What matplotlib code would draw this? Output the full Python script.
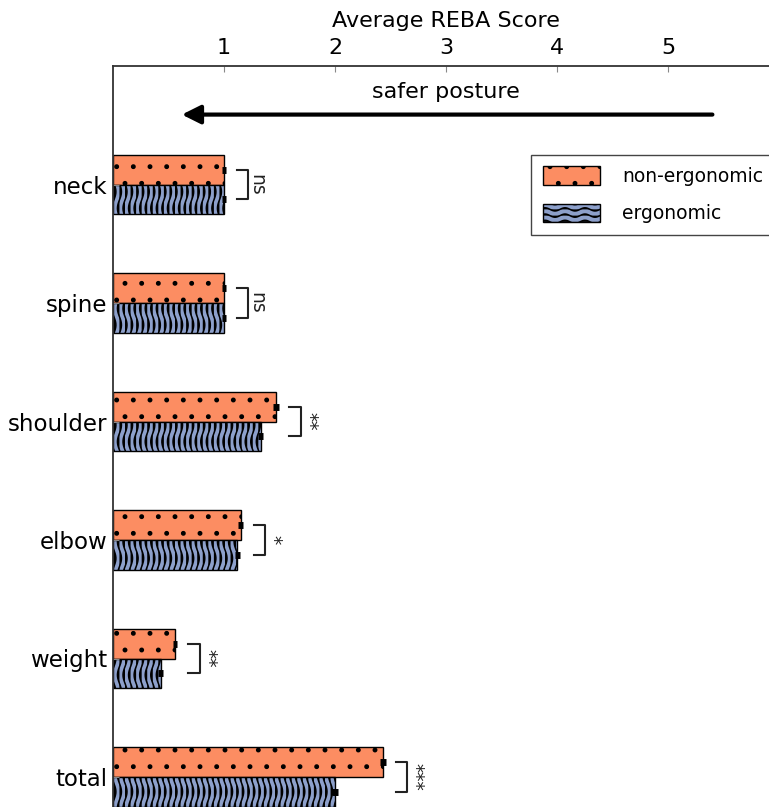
import warnings
import numpy as np
import matplotlib
matplotlib.use("Agg")
import matplotlib.pyplot as plt
from matplotlib import hatch as mhatch
from matplotlib.path import Path
from matplotlib.patches import Patch

warnings.filterwarnings("ignore")

# ── Data ───────────────────────────────────────────────────────────────────────
CATEGORIES = ["neck", "spine", "shoulder", "elbow", "weight", "total"]
NON_ERGO = [1.0, 1.0, 1.47, 1.15, 0.56, 2.43]
ERGO = [1.0, 1.0, 1.33, 1.12, 0.43, 2.0]
NON_ERGO_ERR = [0.02, 0.02, 0.025, 0.02, 0.02, 0.025]
ERGO_ERR = [0.02, 0.02, 0.025, 0.02, 0.022, 0.03]
SIGNIF = ["ns", "ns", "**", "*", "**", "***"]
XTICKS = [1, 2, 3, 4, 5]

ORANGE = "#fc8d62"
BLUE = "#8da0cb"


# ── Custom wavy hatches ────────────────────────────────────────────────────────
class VerticalWaves(mhatch.HatchPatternBase):
    """'s' -> vertical wavy lines (used on the bars)."""
    def __init__(self, hatch, density):
        self.num_lines = hatch.count("s") * 18
        self.n_pts = 60
        self.num_vertices = self.num_lines * self.n_pts

    def set_vertices_and_codes(self, vertices, codes):
        t = np.linspace(0.0, 1.0, self.n_pts)
        for i in range(self.num_lines):
            sl = slice(i * self.n_pts, (i + 1) * self.n_pts)
            x0 = (i + 0.5) / self.num_lines
            vertices[sl, 0] = x0 + 0.02 * np.sin(2 * np.pi * 3 * t)
            vertices[sl, 1] = t
            codes[sl] = Path.LINETO
            codes[i * self.n_pts] = Path.MOVETO


class HorizontalWaves(mhatch.HatchPatternBase):
    """'~' -> horizontal wavy lines (used on the legend handle)."""
    def __init__(self, hatch, density):
        self.num_lines = hatch.count("~") * 16
        self.n_pts = 80
        self.num_vertices = self.num_lines * self.n_pts

    def set_vertices_and_codes(self, vertices, codes):
        t = np.linspace(0.0, 1.0, self.n_pts)
        for i in range(self.num_lines):
            sl = slice(i * self.n_pts, (i + 1) * self.n_pts)
            y0 = (i + 0.5) / self.num_lines
            vertices[sl, 0] = t
            vertices[sl, 1] = y0 + 0.016 * np.sin(2 * np.pi * 5 * t)
            codes[sl] = Path.LINETO
            codes[i * self.n_pts] = Path.MOVETO


mhatch._hatch_types.append(VerticalWaves)
mhatch._hatch_types.append(HorizontalWaves)
plt.rcParams["hatch.linewidth"] = 1.1

# ── Figure ─────────────────────────────────────────────────────────────────────
W, H = 769, 807
fig = plt.figure(figsize=(W / 100, H / 100), dpi=100)

YTOP, YBOT = -1.0, 5.3
px_per_y = 118.5
ax_h = (YBOT - YTOP) * px_per_y
ax_w = 6 * 111
left, top = 113, 66
ax = fig.add_axes([left / W, (H - top - ax_h) / H, ax_w / W, ax_h / H])

y = np.arange(len(CATEGORIES))
bh = 0.25
ax.barh(y - bh / 2, NON_ERGO, height=bh, color=ORANGE, edgecolor="black",
        linewidth=1.0, hatch=".")
ax.barh(y + bh / 2, ERGO, height=bh, color=BLUE, edgecolor="black",
        linewidth=1.0, hatch="s")
ax.errorbar(NON_ERGO, y - bh / 2, xerr=NON_ERGO_ERR, fmt="none",
            ecolor="black", elinewidth=5, capsize=0, zorder=4)
ax.errorbar(ERGO, y + bh / 2, xerr=ERGO_ERR, fmt="none",
            ecolor="black", elinewidth=5, capsize=0, zorder=4)

# significance brackets
for i, lab in enumerate(SIGNIF):
    xb = max(NON_ERGO[i], ERGO[i]) + 0.22
    ax.plot([xb - 0.1, xb, xb, xb - 0.1],
            [i - bh / 2, i - bh / 2, i + bh / 2, i + bh / 2],
            color="#222222", lw=1.5, clip_on=False)
    ax.text(xb + 0.075, i, lab, rotation=270, ha="center", va="center",
            fontsize=13.5, color="#222222")

# arrow + caption
ax.annotate("", xy=(0.62, -0.59), xytext=(5.4, -0.59),
            arrowprops=dict(arrowstyle="-|>", lw=3, color="black",
                            mutation_scale=28, shrinkA=0, shrinkB=0))
ax.text(3.0, -0.78, "safer posture", ha="center", va="center", fontsize=16)

ax.set_xlim(0, 6)
ax.set_ylim(YBOT, YTOP)
ax.set_yticks(y)
ax.set_yticklabels(CATEGORIES, fontsize=16.5)
ax.set_xticks(XTICKS)
ax.set_xticklabels([str(v) for v in XTICKS], fontsize=16)
ax.xaxis.tick_top()
ax.xaxis.set_label_position("top")
ax.set_xlabel("Average REBA Score", fontsize=16, labelpad=8.5)
ax.tick_params(axis="both", direction="in", length=4, color="#888888")
ax.tick_params(axis="x", pad=5.5)
ax.tick_params(axis="y", pad=4)

for s in ["right", "bottom"]:
    ax.spines[s].set_visible(False)
for s in ["top", "left"]:
    ax.spines[s].set_color("#333333")
    ax.spines[s].set_linewidth(1.3)

handles = [Patch(facecolor=ORANGE, edgecolor="black", hatch="."),
           Patch(facecolor=BLUE, edgecolor="black", hatch="~")]
leg = ax.legend(handles, ["non-ergonomic", "ergonomic"],
                loc="upper left", bbox_to_anchor=(0.628, 0.881),
                borderaxespad=0, fontsize=13.5, handlelength=3.04,
                handleheight=1.12, handletextpad=1.2, labelspacing=0.95,
                borderpad=0.62, fancybox=False, framealpha=1)
leg.get_frame().set_edgecolor("#444444")
leg.get_frame().set_linewidth(1.0)

fig.savefig("out.png", dpi=100)
